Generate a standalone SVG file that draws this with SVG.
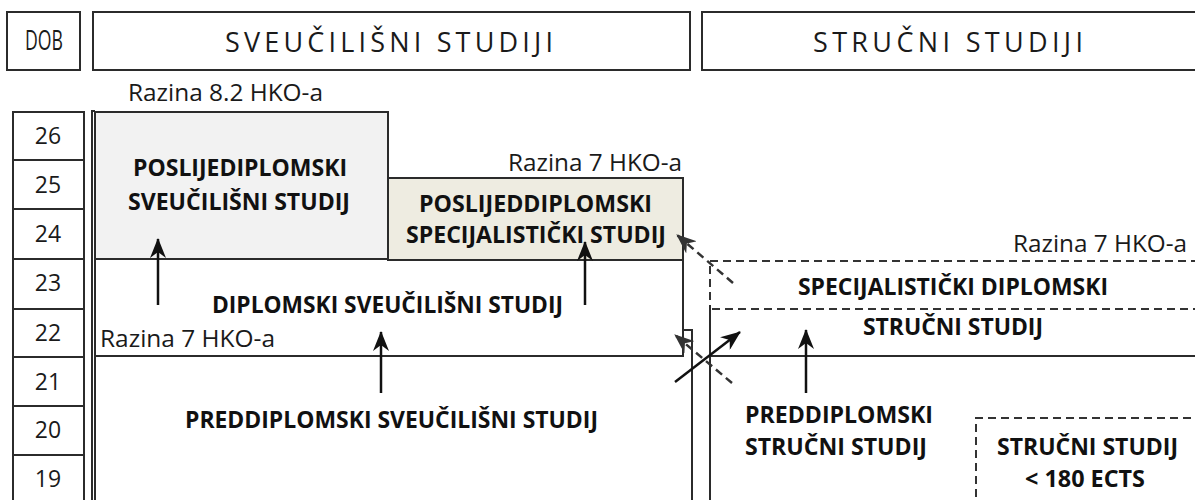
<svg xmlns="http://www.w3.org/2000/svg" width="1195" height="500" viewBox="0 0 1195 500">
<style>
.box{fill:#fff;stroke:#2b2b2b;stroke-width:2}
.ln{fill:none;stroke:#2b2b2b;stroke-width:2}
.dash{fill:none;stroke:#333;stroke-width:2;stroke-dasharray:8 5}
.hdr{font-family:"Open Sans","Noto Sans",sans-serif;font-size:27px;fill:#1a1a1a}
.reg{font-family:"Open Sans","Noto Sans",sans-serif;font-size:24px;fill:#1a1a1a}
.age{font-family:"Open Sans","Noto Sans",sans-serif;font-size:23px;fill:#1a1a1a;text-anchor:middle}
.b{font-family:"Open Sans","Noto Sans",sans-serif;font-size:24px;font-weight:bold;fill:#111}
.arr{fill:none;stroke:#111;stroke-width:2.5;marker-end:url(#ah)}
.darr{fill:none;stroke:#333;stroke-width:2.5;stroke-dasharray:8 5;marker-end:url(#dh)}
</style>
<defs>
<marker id="ah" viewBox="0 0 20 16" refX="19" refY="8" markerWidth="20" markerHeight="16" orient="auto" markerUnits="userSpaceOnUse"><path d="M0,0 L20,8 L0,16 L6,8 z" fill="#111"/></marker>
<marker id="dh" viewBox="0 0 20 16" refX="19" refY="8" markerWidth="20" markerHeight="16" orient="auto" markerUnits="userSpaceOnUse"><path d="M0,0 L20,8 L0,16 L6,8 z" fill="#333"/></marker>
</defs>
<rect width="1195" height="500" fill="#fff"/>

<g id="header-dob">
<rect class="box" x="7" y="12" width="73" height="58"/>
<text class="hdr" x="25" y="50" font-size="25" textLength="38" lengthAdjust="spacingAndGlyphs">DOB</text>
</g>
<g id="header-sveucilisni">
<rect class="box" x="93" y="12" width="597" height="58"/>
<text class="hdr" x="225" y="52" textLength="328">SVEUČILIŠNI STUDIJI</text>
</g>
<g id="header-strucni">
<rect class="box" x="702" y="12" width="500" height="58"/>
<text class="hdr" x="813" y="52" textLength="270">STRUČNI STUDIJI</text>
</g>

<g id="ages">
<rect class="box" x="13" y="112" width="71" height="48"/>
<rect class="box" x="13" y="160" width="71" height="49"/>
<rect class="box" x="13" y="209" width="71" height="50"/>
<rect class="box" x="13" y="259" width="71" height="50"/>
<rect class="box" x="13" y="309" width="71" height="48"/>
<rect class="box" x="13" y="357" width="71" height="49"/>
<rect class="box" x="13" y="406" width="71" height="49"/>
<rect class="box" x="13" y="455" width="71" height="60"/>
<text class="age" x="48" y="144">26</text>
<text class="age" x="48" y="193">25</text>
<text class="age" x="48" y="242">24</text>
<text class="age" x="48" y="291">23</text>
<text class="age" x="48" y="341">22</text>
<text class="age" x="48" y="390">21</text>
<text class="age" x="48" y="438">20</text>
<text class="age" x="48" y="487">19</text>
</g>

<g id="razina-82">
<text class="reg" x="128" y="101" textLength="195" lengthAdjust="spacingAndGlyphs">Razina 8.2 HKO-a</text>
</g>

<g id="left-frame">
<path class="ln" d="M92,510 V111 H95"/>
</g>

<g id="poslijediplomski-sveucilisni">
<rect x="95" y="112" width="293" height="147" fill="#f2f2f2" stroke="#2b2b2b" stroke-width="2"/>
<text class="b" x="133" y="176" textLength="214" lengthAdjust="spacingAndGlyphs">POSLIJEDIPLOMSKI</text>
<text class="b" x="128" y="210" textLength="222" lengthAdjust="spacingAndGlyphs">SVEUČILIŠNI STUDIJ</text>
</g>

<g id="poslijediplomski-specijalisticki">
<text class="reg" x="508" y="171" textLength="174" lengthAdjust="spacingAndGlyphs">Razina 7 HKO-a</text>
<rect x="388" y="178" width="295" height="82" fill="#eeece1" stroke="#2b2b2b" stroke-width="2"/>
<text class="b" x="419" y="212" textLength="233" lengthAdjust="spacingAndGlyphs">POSLIJEDDIPLOMSKI</text>
<text class="b" x="406" y="243" textLength="260" lengthAdjust="spacingAndGlyphs">SPECIJALISTIČKI STUDIJ</text>
</g>

<g id="diplomski-sveucilisni">
<path class="ln" d="M95,259 V356 H683 V260"/>
<text class="b" x="212" y="313" textLength="351" lengthAdjust="spacingAndGlyphs">DIPLOMSKI SVEUČILIŠNI STUDIJ</text>
<text class="reg" x="100" y="347" textLength="175" lengthAdjust="spacingAndGlyphs">Razina 7 HKO-a</text>
</g>

<g id="preddiplomski-sveucilisni">
<path class="ln" d="M95,356 V510"/>
<path class="ln" d="M683,330 H692 V510"/>
<text class="b" x="185" y="428" textLength="413" lengthAdjust="spacingAndGlyphs">PREDDIPLOMSKI SVEUČILIŠNI STUDIJ</text>
</g>

<g id="specijalisticki-diplomski-strucni">
<path class="dash" d="M710,300 V261 H1200"/>
<path class="dash" d="M712,309 H1200"/>
<text class="reg" x="1013" y="252" textLength="174" lengthAdjust="spacingAndGlyphs">Razina 7 HKO-a</text>
<text class="b" x="798" y="295" textLength="310" lengthAdjust="spacingAndGlyphs">SPECIJALISTIČKI DIPLOMSKI</text>
<text class="b" x="863" y="335" textLength="180" lengthAdjust="spacingAndGlyphs">STRUČNI STUDIJ</text>
</g>

<g id="preddiplomski-strucni">
<path class="ln" d="M710,305 V510"/>
<path class="ln" d="M710,356 H1200"/>
<text class="b" x="745" y="423" textLength="188" lengthAdjust="spacingAndGlyphs">PREDDIPLOMSKI</text>
<text class="b" x="745" y="455" textLength="182" lengthAdjust="spacingAndGlyphs">STRUČNI STUDIJ</text>
</g>

<g id="strucni-180">
<path class="dash" d="M976,510 V418 H1200"/>
<text class="b" x="997" y="455" textLength="181" lengthAdjust="spacingAndGlyphs">STRUČNI STUDIJ</text>
<text class="b" x="1025" y="487" textLength="120" lengthAdjust="spacingAndGlyphs">&lt; 180 ECTS</text>
</g>

<g id="connectors">
<path class="arr" d="M158,305 V239"/>
<path class="arr" d="M585,305 V242"/>
<path class="arr" d="M381,393 V332"/>
<path class="arr" d="M806,393 V330"/>
<path class="arr" d="M675,382 L740,332"/>
<path class="darr" d="M733,283 L677,235"/>
<path class="darr" d="M732,383 L675,335"/>
</g>
</svg>
